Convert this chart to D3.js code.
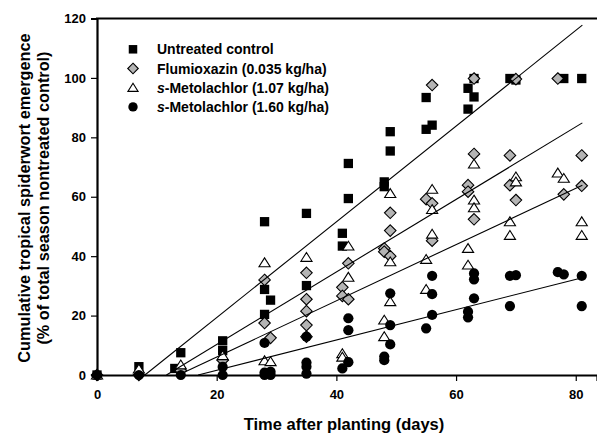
<!DOCTYPE html>
<html>
<head>
<meta charset="utf-8">
<script src="https://cdn.jsdelivr.net/npm/d3@7"></script>
<style>
  body { margin: 0; background: #fff; }
  text { font-family: Arial, "Liberation Sans", sans-serif; font-weight: bold; }
</style>
</head>
<body>
<div id="chart"></div>
<script>
// [day, % emergence]
const controlData = [[0,0],[7,2.8],[13,2.2],[14,7.5],[21,11.5],[21,8.2],[28,51.6],[28,28.8],[28,20.4],[29,25.2],
  [35,54.4],[35,30.1],[41,47.7],[41,43.4],[42,71.2],[42,59.4],[48,65],[48,63.4],[49,81.9],[49,75.4],
  [55,93.4],[55,82.7],[56,84.1],[62,96.5],[62,89.5],[63,99.8],[63,93.6],[69,99.8],[70,99.3],[78,99.8],[81,99.8]];
const flumioxazinData = [[0,0],[7,0],[14,1.5],[21,5],[28,32],[28,17.5],[29,12.5],[35,34.4],[35,25.5],[35,21.5],
  [35,16.8],[35,12.9],[41,29.5],[41,26.6],[42,37.6],[42,25.5],[48,42.6],[48,41.5],[49,54.6],[49,48.6],[49,40],
  [55,59.2],[56,97.6],[56,57.8],[56,45.2],[62,63.9],[62,61.7],[63,99.8],[63,74.4],[63,52.4],[69,73.9],[69,63.9],
  [70,99.6],[70,58.9],[77,99.8],[78,60.8],[81,73.9],[81,63.7]];
const meto107Data = [[0,0],[7,2],[14,3.4],[21,6.5],[28,37.8],[28,4.8],[29,4.5],[35,39.6],[41,7.2],[41,6],
  [42,43.4],[42,32.9],[48,18.5],[48,12.9],[49,61.1],[49,38.1],[49,24.7],[55,38.9],[55,28.8],[56,62.5],[56,55.7],
  [56,47.4],[62,42.6],[62,37],[63,71],[63,58.9],[63,56.3],[69,51.6],[69,47],[70,66.7],[70,65],[77,68],[78,66.2],
  [81,51.6],[81,47]];
const meto160Data = [[0,0],[7,0],[14,0],[21,2.7],[21,0],[28,10.8],[28,0.8],[28,0],[29,1.1],[29,0],[35,12.9],
  [35,4.2],[35,2.8],[35,0.5],[41,2.2],[42,19.1],[42,15.1],[42,4.3],[48,6.2],[48,5],[49,27.5],[49,16.8],[49,10.3],
  [55,15.7],[56,33.4],[56,27.2],[56,20.2],[62,21.3],[62,19.4],[63,34.2],[63,32.2],[63,25.8],[69,33.4],[69,23.2],
  [70,33.6],[77,34.6],[78,33.9],[81,33.4],[81,23.2]];

// fitted lines: x-intercept (days), slope (% per day), last day drawn
const fitStart = [8.0, 11.6, 13.6, 16.9];
const fitSlope = [1.611, 1.221, 0.946, 0.51];
const fitEnd = [81.1, 81.1, 81.1, 80.6];

const seriesNames = ["Untreated control", "Flumioxazin (0.035 kg/ha)", "s-Metolachlor (1.07 kg/ha)", "s-Metolachlor (1.60 kg/ha)"];
const seriesShapes = ["square", "diamond", "triangle", "circle"];
const xTicks = [0, 20, 40, 60, 80];
const yTicks = [0, 20, 40, 60, 80, 100, 120];

const allData = [controlData, flumioxazinData, meto107Data, meto160Data];

var W = 597, H = 434;
var svg = d3.select("#chart").append("svg").attr("width", W).attr("height", H);

var x = d3.scaleLinear().domain([0, 83.55]).range([97, 597]);
var y = d3.scaleLinear().domain([0, 120]).range([375, 18.5]);

// draws a marker of given shape centered at 0,0
function marker(g, shape, s) {
  if (shape == "square") {
    g.append("rect").attr("x", -s/2).attr("y", -s/2).attr("width", s).attr("height", s)
      .attr("fill", "#000");
  } else if (shape == "diamond") {
    var r = s * 0.62;
    g.append("path").attr("d", "M0," + (-r) + "L" + r + ",0L0," + r + "L" + (-r) + ",0Z")
      .attr("fill", "#b4b4b4").attr("stroke", "#000").attr("stroke-width", 1.1);
  } else if (shape == "triangle") {
    var h = s * 0.95;
    g.append("path").attr("d", "M0," + (-h*0.55) + "L" + (s*0.6) + "," + (h*0.45) + "L" + (-s*0.6) + "," + (h*0.45) + "Z")
      .attr("fill", "#fff").attr("stroke", "#000").attr("stroke-width", 1.1);
  } else {
    g.append("circle").attr("r", s * 0.55).attr("fill", "#000");
  }
}

// data points
allData.forEach(function(data, i) {
  svg.append("g").selectAll("g").data(data).enter().append("g")
    .attr("transform", function(d) { return "translate(" + x(d[0]) + "," + y(d[1]) + ")"; })
    .each(function() { marker(d3.select(this), seriesShapes[i], 9.3); });
});

// regression lines
fitStart.forEach(function(x0, i) {
  svg.append("line")
    .attr("x1", x(x0)).attr("y1", y(0))
    .attr("x2", x(fitEnd[i])).attr("y2", y((fitEnd[i] - x0) * fitSlope[i]))
    .attr("stroke", "#000").attr("stroke-width", 1.1);
});

// axes
var xAxis = svg.append("g").attr("transform", "translate(0,375)")
  .call(d3.axisBottom(x).tickValues(xTicks).tickSize(6).tickPadding(9));
var yAxis = svg.append("g").attr("transform", "translate(97,0)")
  .call(d3.axisLeft(y).tickValues(yTicks).tickSize(6).tickPadding(5));
[xAxis, yAxis].forEach(function(a) {
  a.select(".domain").attr("stroke-width", 2.2);
  a.selectAll(".tick line").attr("stroke-width", 1.2);
  a.selectAll("text").attr("font-size", 13).attr("font-family", "Arial, 'Liberation Sans', sans-serif")
    .attr("font-weight", "bold").attr("fill", "#000");
});
// top frame line
svg.append("line").attr("x1", 96).attr("x2", W).attr("y1", 18.5).attr("y2", 18.5)
  .attr("stroke", "#000").attr("stroke-width", 2.2);

// axis titles
svg.append("text").attr("x", 344).attr("y", 430).attr("text-anchor", "middle")
  .attr("font-size", 16.5).text("Time after planting (days)");
svg.append("text").attr("transform", "translate(30,198) rotate(-90)").attr("text-anchor", "middle")
  .attr("font-size", 16.3).text("Cumulative tropical spiderwort emergence");
svg.append("text").attr("transform", "translate(49,198) rotate(-90)").attr("text-anchor", "middle")
  .attr("font-size", 16.3).text("(% of total season nontreated control)");

// legend
var leg = svg.append("g");
seriesNames.forEach(function(name, i) {
  var ly = 49.3 + i * 19.2;
  var g = leg.append("g").attr("transform", "translate(133," + ly + ")");
  marker(g, seriesShapes[i], 8.5);
  var t = leg.append("text").attr("x", 157).attr("y", ly + 5).attr("font-size", 14);
  if (name.indexOf("s-") == 0) {
    t.append("tspan").attr("font-style", "italic").text("s");
    t.append("tspan").text(name.slice(1));
  } else {
    t.text(name);
  }
});
</script>
</body>
</html>
